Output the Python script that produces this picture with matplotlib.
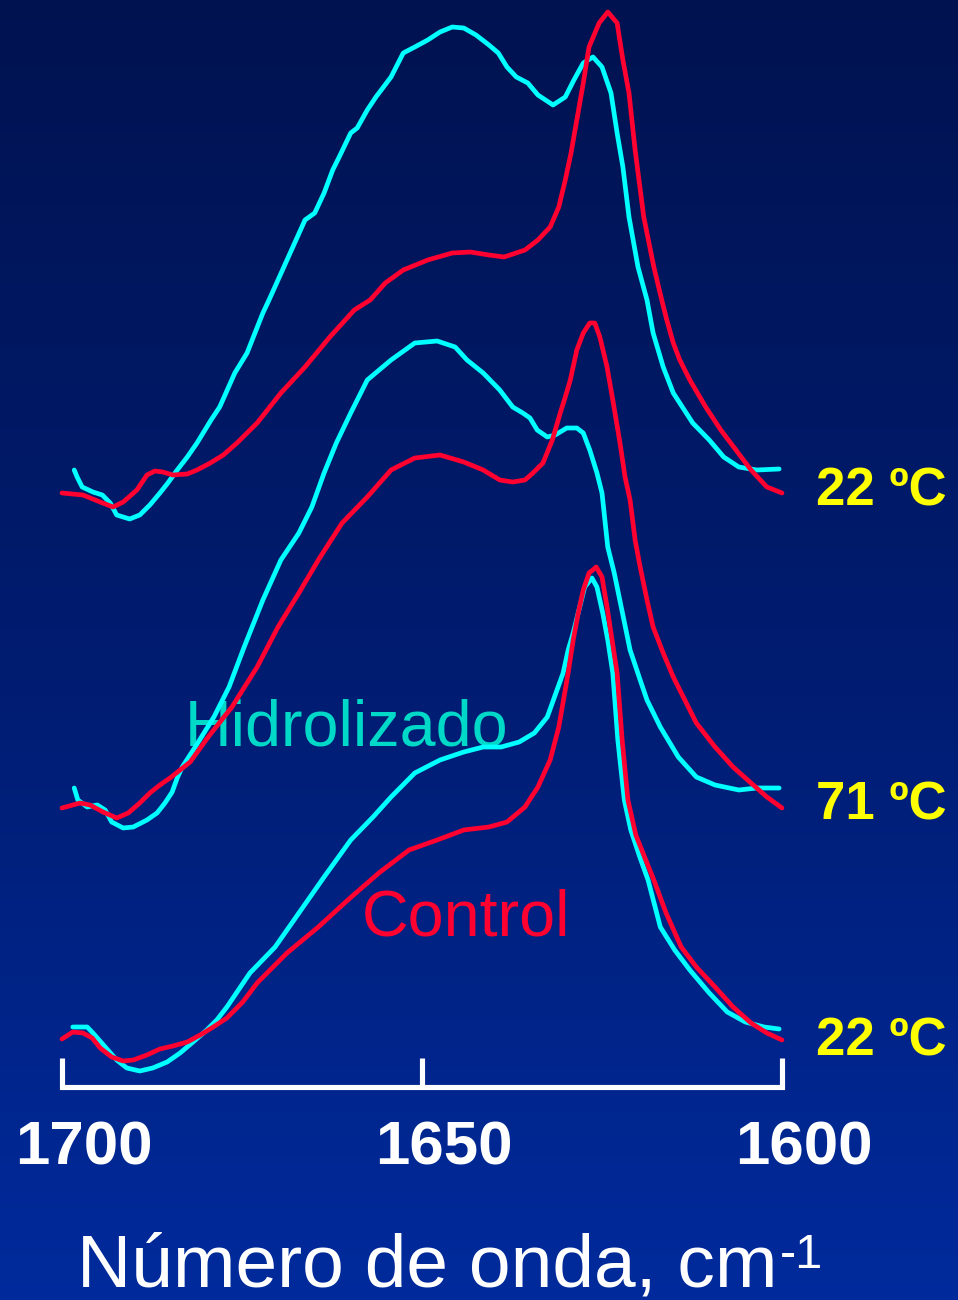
import numpy as np
import matplotlib
matplotlib.use("Agg")
import matplotlib.pyplot as plt
from matplotlib.colors import LinearSegmentedColormap

plt.rcParams["font.family"] = ["Liberation Sans", "DejaVu Sans"]

# ---- amide I band spectra: wavenumber (cm-1) and absorbance (a.u., baseline-referenced) ----
# top pair: 22 ºC
top_hid_wn = [1698.3, 1697.9, 1697.2, 1695.7, 1694.4, 1693.3, 1692.4, 1690.6, 1689.2, 1687.8,
              1686.4, 1685.3, 1684.0, 1682.6, 1681.25, 1679.3, 1678.1, 1676.0, 1674.3, 1672.1,
              1671.25, 1668.75, 1666.25, 1664.9, 1663.6, 1662.4, 1661.5, 1659.9, 1659.0, 1657.6,
              1656.4, 1654.3, 1652.6, 1651.0, 1649.2, 1647.5, 1645.8, 1644.2, 1642.5, 1640.7,
              1639.4, 1638.2, 1636.9, 1635.3, 1633.9, 1631.8, 1630.1, 1628.9, 1627.6, 1626.25,
              1625.0, 1623.75, 1622.9, 1622.1, 1621.25, 1620.0, 1618.75, 1617.9, 1616.5, 1615.1,
              1614.2, 1612.4, 1610.1, 1608.1, 1606.0, 1603.5, 1600.4]
top_hid_abs = [0.23, 0.16, 0.06, 0.01, -0.02, -0.10, -0.22, -0.26, -0.22, -0.12,
               0.00, 0.10, 0.23, 0.36, 0.50, 0.73, 0.86, 1.20, 1.40, 1.80,
               1.93, 2.33, 2.73, 2.80, 3.00, 3.23, 3.36, 3.60, 3.65, 3.83,
               3.96, 4.16, 4.40, 4.46, 4.53, 4.61, 4.66, 4.65, 4.58, 4.48,
               4.40, 4.26, 4.16, 4.10, 3.98, 3.88, 3.96, 4.13, 4.30, 4.36,
               4.26, 4.00, 3.60, 3.26, 2.76, 2.26, 1.93, 1.60, 1.26, 1.00,
               0.90, 0.70, 0.53, 0.36, 0.26, 0.23, 0.24]

top_ctl_wn = [1700.0, 1697.1, 1694.7, 1692.9, 1691.5, 1689.6, 1688.2, 1687.1, 1686.0, 1684.6,
              1682.6, 1681.25, 1679.4, 1677.6, 1675.7, 1672.9, 1669.6, 1666.25, 1662.8, 1659.4,
              1657.2, 1655.1, 1652.6, 1649.2, 1645.8, 1643.3, 1640.7, 1638.6, 1635.7, 1633.9,
              1632.2, 1631.0, 1630.1, 1629.3, 1628.5, 1627.6, 1626.8, 1625.4, 1624.2, 1622.9,
              1622.1, 1621.25, 1620.4, 1619.2, 1617.8, 1616.7, 1616.0, 1615.1, 1614.2, 1612.8,
              1610.6, 1608.5, 1606.4, 1604.3, 1602.1, 1600.0]
top_ctl_abs = [0.00, -0.02, -0.09, -0.14, -0.09, 0.03, 0.18, 0.22, 0.21, 0.18,
               0.19, 0.23, 0.30, 0.38, 0.50, 0.70, 1.00, 1.26, 1.56, 1.83,
               1.93, 2.10, 2.23, 2.33, 2.40, 2.41, 2.38, 2.36, 2.43, 2.53,
               2.66, 2.86, 3.13, 3.40, 3.73, 4.10, 4.46, 4.70, 4.81, 4.70,
               4.33, 4.00, 3.43, 2.76, 2.26, 1.93, 1.73, 1.50, 1.33, 1.13,
               0.86, 0.63, 0.43, 0.23, 0.06, 0.00]

# middle pair: 71 ºC
mid_hid_wn = [1698.3, 1697.8, 1696.5, 1695.1, 1694.0, 1693.1, 1691.5, 1690.1, 1688.2, 1686.8,
              1685.7, 1684.7, 1684.0, 1683.3, 1681.5, 1678.9, 1676.8, 1674.7, 1672.1, 1669.6,
              1667.1, 1665.3, 1663.6, 1661.9, 1659.9, 1657.6, 1654.3, 1651.0, 1647.9, 1645.4,
              1643.75, 1641.5, 1639.2, 1637.4, 1636.0, 1635.0, 1634.0, 1632.6, 1631.5, 1629.9,
              1628.5, 1627.6, 1626.7, 1625.7, 1625.0, 1624.2, 1623.3, 1622.1, 1621.1, 1619.7,
              1618.75, 1616.9, 1614.4, 1611.9, 1609.3, 1606.0, 1603.5, 1600.4]
mid_hid_abs = [0.17, 0.05, -0.02, 0.00, -0.05, -0.17, -0.23, -0.22, -0.15, -0.08,
               0.02, 0.13, 0.27, 0.38, 0.58, 0.88, 1.18, 1.58, 2.05, 2.45,
               2.72, 2.98, 3.32, 3.62, 3.92, 4.25, 4.45, 4.62, 4.64, 4.58,
               4.45, 4.32, 4.15, 3.98, 3.92, 3.87, 3.75, 3.68, 3.70, 3.77,
               3.77, 3.72, 3.55, 3.32, 3.12, 2.58, 2.32, 1.90, 1.55, 1.25,
               1.05, 0.78, 0.48, 0.28, 0.20, 0.15, 0.17, 0.17]

mid_ctl_wn = [1700.0, 1697.5, 1696.1, 1694.3, 1692.4, 1690.8, 1689.2, 1687.8, 1686.4, 1685.0,
              1683.6, 1682.2, 1679.7, 1676.4, 1672.9, 1670.0, 1667.1, 1664.4, 1661.1, 1657.6,
              1654.3, 1651.0, 1647.5, 1644.2, 1641.5, 1639.2, 1637.4, 1635.7, 1634.6, 1633.2,
              1631.9, 1630.8, 1630.1, 1629.4, 1628.5, 1627.6, 1626.7, 1626.0, 1625.3, 1624.3,
              1623.5, 1622.5, 1621.8, 1621.1, 1620.4, 1619.7, 1618.75, 1617.9, 1616.5, 1615.1,
              1611.9, 1609.3, 1606.8, 1604.3, 1602.1, 1600.0]
mid_ctl_abs = [-0.03, 0.02, 0.00, -0.07, -0.13, -0.08, 0.02, 0.12, 0.20, 0.27,
               0.35, 0.43, 0.68, 0.98, 1.38, 1.78, 2.12, 2.45, 2.82, 3.08,
               3.35, 3.47, 3.50, 3.43, 3.35, 3.25, 3.23, 3.25, 3.32, 3.42,
               3.65, 3.92, 4.08, 4.25, 4.55, 4.72, 4.82, 4.82, 4.68, 4.38,
               4.05, 3.62, 3.28, 3.05, 2.65, 2.38, 2.05, 1.78, 1.52, 1.28,
               0.82, 0.58, 0.38, 0.22, 0.08, -0.03]

# bottom pair: 22 ºC
bot_hid_wn = [1698.5, 1696.5, 1695.7, 1694.0, 1692.4, 1691.0, 1689.2, 1687.4, 1685.4, 1683.6,
              1681.8, 1679.9, 1678.5, 1677.1, 1673.9, 1670.4, 1667.1, 1663.6, 1661.9, 1659.9,
              1656.8, 1654.3, 1651.0, 1647.5, 1644.2, 1641.5, 1639.0, 1636.5, 1634.4, 1632.6,
              1631.4, 1630.4, 1629.7, 1629.0, 1628.1, 1627.4, 1626.4, 1625.7, 1624.9, 1624.2,
              1623.5, 1622.8, 1621.9, 1621.0, 1619.7, 1618.6, 1616.9, 1614.9, 1612.8, 1610.1,
              1607.6, 1605.1, 1602.5, 1600.4]
bot_hid_abs = [0.08, 0.08, 0.02, -0.12, -0.25, -0.33, -0.36, -0.33, -0.27, -0.18,
               -0.07, 0.05, 0.15, 0.28, 0.62, 0.88, 1.22, 1.58, 1.75, 1.95,
               2.18, 2.38, 2.62, 2.75, 2.83, 2.88, 2.88, 2.93, 3.02, 3.18,
               3.42, 3.62, 3.85, 4.02, 4.28, 4.48, 4.57, 4.48, 4.22, 3.95,
               3.62, 2.95, 2.35, 2.05, 1.77, 1.55, 1.08, 0.85, 0.65, 0.42,
               0.23, 0.13, 0.08, 0.06]

bot_ctl_wn = [1700.0, 1698.5, 1697.1, 1695.8, 1694.7, 1693.1, 1691.5, 1690.1, 1688.2, 1686.4,
              1684.6, 1682.6, 1680.8, 1679.0, 1677.1, 1674.9, 1672.9, 1668.75, 1664.4, 1660.3,
              1656.0, 1651.8, 1647.9, 1644.2, 1640.7, 1638.2, 1635.7, 1633.9, 1632.2, 1631.0,
              1629.7, 1629.0, 1628.3, 1627.6, 1626.8, 1625.8, 1625.0, 1624.3, 1623.6, 1622.9,
              1622.2, 1621.4, 1620.3, 1619.2, 1617.8, 1616.1, 1614.0, 1611.9, 1609.3, 1606.8,
              1604.3, 1602.1, 1600.0]
bot_ctl_abs = [-0.04, 0.03, 0.02, -0.03, -0.13, -0.22, -0.26, -0.25, -0.20, -0.14,
               -0.11, -0.07, 0.00, 0.08, 0.17, 0.33, 0.52, 0.82, 1.08, 1.35,
               1.62, 1.85, 1.95, 2.05, 2.08, 2.13, 2.28, 2.48, 2.75, 3.08,
               3.62, 3.95, 4.22, 4.45, 4.62, 4.68, 4.58, 4.28, 3.95, 3.62,
               2.95, 2.35, 2.00, 1.80, 1.55, 1.22, 0.88, 0.68, 0.48, 0.28,
               0.12, 0.02, -0.05]

temperatures = ["22 ºC", "71 ºC", "22 ºC"]          # top, middle, bottom
stack_offsets = [5.94, 2.82, 0.52]                   # vertical offset of each pair
label_heights = [5.82, 2.67, 0.32]                   # baseline of each temperature label
x_ticks = [1700, 1650, 1600]

CYAN = "#00ffff"
RED = "#ff0030"
YELLOW = "#ffff00"
TEAL_TEXT = "#00d8c8"

# ---- figure ----
W, H, DPI = 958, 1300, 100
fig = plt.figure(figsize=(W / DPI, H / DPI), dpi=DPI)

# background gradient (dark navy at top, brighter blue at bottom)
bg = fig.add_axes([0, 0, 1, 1], zorder=0)
bg.axis("off")
cmap = LinearSegmentedColormap.from_list("bgblue", ["#001250", "#001c70", "#002a9c"])
grad = np.linspace(0, 1, 512).reshape(-1, 1)
bg.imshow(grad, aspect="auto", cmap=cmap, extent=[0, 1, 0, 1], origin="upper")
bg.set_xlim(0, 1)
bg.set_ylim(0, 1)

ax = fig.add_axes([0, 0, 1, 1], zorder=1)
ax.patch.set_alpha(0)
ax.axis("off")
px_per_wn = 7.2
ax.set_xlim(1700 + 62 / px_per_wn, 1700 - (W - 62) / px_per_wn)
ax.set_ylim(-(H - 1087) / 100, 1087 / 100)

lw = 3.4
pairs = [
    (top_hid_wn, top_hid_abs, top_ctl_wn, top_ctl_abs),
    (mid_hid_wn, mid_hid_abs, mid_ctl_wn, mid_ctl_abs),
    (bot_hid_wn, bot_hid_abs, bot_ctl_wn, bot_ctl_abs),
]
for (hw, ha, cw, ca), off in zip(pairs, stack_offsets):
    ax.plot(hw, np.asarray(ha) + off, color=CYAN, lw=lw,
            solid_capstyle="round", solid_joinstyle="round", zorder=3)
    ax.plot(cw, np.asarray(ca) + off, color=RED, lw=lw,
            solid_capstyle="round", solid_joinstyle="round", zorder=4)

# temperature labels on the right
for t, yl in zip(temperatures, label_heights):
    ax.text(1595.3, yl, t, color=YELLOW, fontsize=38, fontweight="bold",
            ha="left", va="baseline", zorder=5)

# series names
ax.text(1683.0, 3.42, "Hidrolizado", color=TEAL_TEXT, fontsize=46.5,
        ha="left", va="baseline", zorder=2)
ax.text(1658.4, 1.52, "Control", color=RED, fontsize=46.5,
        ha="left", va="baseline", zorder=2)

# bracket-style x axis
tick_h = 0.29
ax.plot([x_ticks[0], x_ticks[0], x_ticks[-1], x_ticks[-1]], [tick_h, 0, 0, tick_h],
        color="white", lw=3.7, solid_joinstyle="miter", solid_capstyle="butt", zorder=5)
for xt in x_ticks[1:-1]:
    ax.plot([xt, xt], [0, tick_h], color="white", lw=3.7, solid_capstyle="butt", zorder=5)
for xt in x_ticks:
    ax.annotate(str(xt), xy=(xt, 0), xytext=(16, -56), textcoords="offset points",
                color="white", fontsize=44.5, fontweight="bold",
                ha="center", va="baseline", zorder=5)

# axis title with superscript unit exponent
fig.text(77 / W, (H - 1287) / H, "Número de onda, cm", color="white",
         fontsize=54, ha="left", va="baseline")
fig.text(780 / W, (H - 1268) / H, "-1", color="white",
         fontsize=35, ha="left", va="baseline")

fig.savefig("out.png", dpi=DPI)
